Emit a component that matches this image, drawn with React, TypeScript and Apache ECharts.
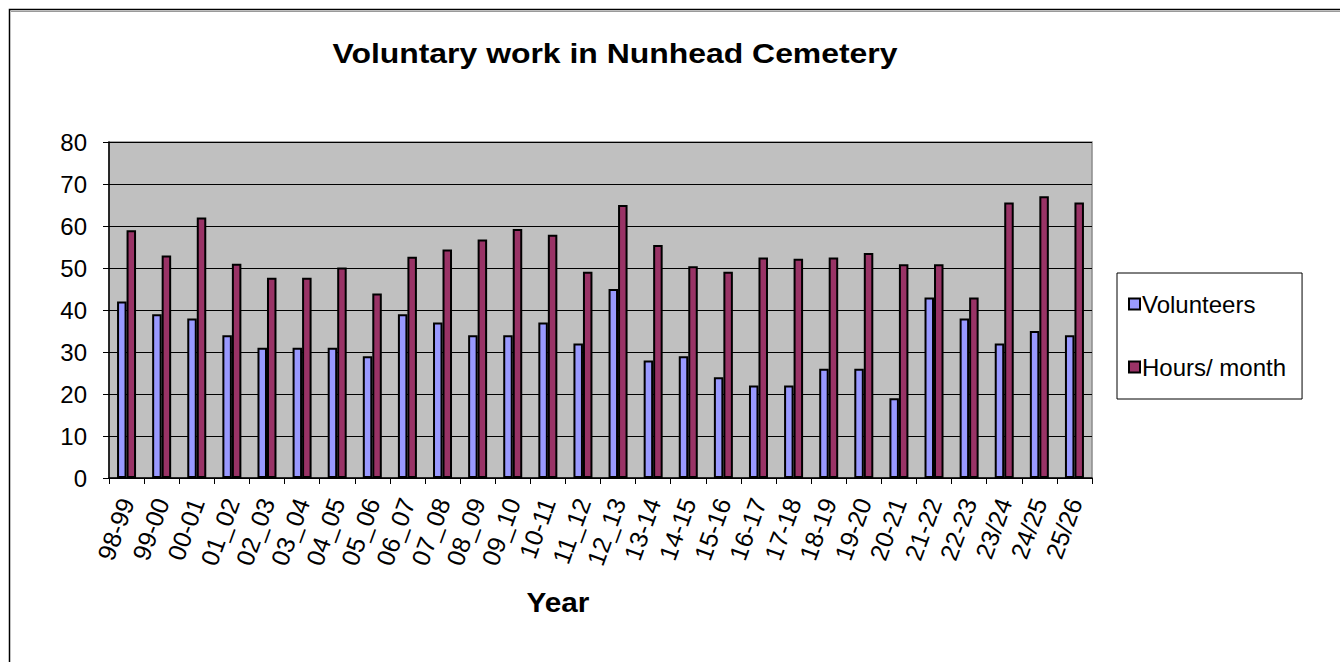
import React, { useEffect, useRef } from "react";
import * as echarts from "echarts";

const years = [
  "98-99", "99-00", "00-01", "01_02", "02_03", "03_04", "04_05", "05_06", "06_07", "07_08",
  "08_09", "09_10", "10-11", "11_12", "12_13", "13-14", "14-15", "15-16", "16-17", "17-18",
  "18-19", "19-20", "20-21", "21-22", "22-23", "23/24", "24/25", "25/26",
];
const volunteers = [42, 39, 38, 34, 31, 31, 31, 29, 39, 37, 34, 34, 37, 32, 45, 28, 29, 24, 22, 22, 26, 26, 19, 43, 38, 32, 35, 34];
const hoursPerMonth = [59, 53, 62, 51, 47.7, 47.7, 50.1, 43.9, 52.7, 54.4, 56.8, 59.3, 57.9, 49.1, 65, 55.5, 50.4, 49.1, 52.5, 52.2, 52.5, 53.6, 50.9, 50.9, 43, 65.6, 67.1, 65.6];
const yTicks = { min: 0, max: 80, interval: 10 };

const FONT = "'Liberation Sans', Arial, sans-serif";

export default function App() {
  const ref = useRef<HTMLDivElement>(null);
  useEffect(() => {
    if (!ref.current) return;
    const chart = echarts.init(ref.current, null, { renderer: "svg" });
    chart.setOption({
      animation: false,
      backgroundColor: "#fff",
      textStyle: { fontFamily: FONT },
      graphic: [
        {
          type: "rect",
          shape: { x: 9.5, y: 9.5, width: 1400, height: 700 },
          style: { fill: "none", stroke: "#000", lineWidth: 1.5 },
          silent: true,
        },
        {
          type: "line",
          shape: { x1: 11, y1: 11.5, x2: 1340, y2: 11.5 },
          style: { stroke: "#9a9a9a", lineWidth: 1 },
          silent: true,
        },
        {
          type: "text",
          x: 615,
          y: 53,
          scaleX: 1.14,
          style: {
            text: "Voluntary work in Nunhead Cemetery",
            font: `bold 28px ${FONT}`,
            fill: "#000",
            textAlign: "center",
            textVerticalAlign: "middle",
          },
        },
        {
          type: "text",
          x: 558,
          y: 602,
          scaleX: 1.1,
          style: {
            text: "Year",
            font: `bold 27px ${FONT}`,
            fill: "#000",
            textAlign: "center",
            textVerticalAlign: "middle",
          },
        },
      ],
      legend: {
        orient: "vertical",
        left: 1117,
        top: 273,
        padding: [19, 16, 20, 11],
        itemGap: 39,
        itemWidth: 11,
        itemHeight: 11,
        borderColor: "#000",
        borderWidth: 1,
        backgroundColor: "#fff",
        textStyle: { fontSize: 24, color: "#000", fontFamily: FONT, padding: [0, 0, 0, -3] },
        data: [
          { name: "Volunteers", icon: "rect" },
          { name: "Hours/ month", icon: "rect" },
        ],
      },
      grid: {
        left: 109,
        top: 142,
        right: 248,
        bottom: 184,
        show: true,
        backgroundColor: "#C0C0C0",
        borderColor: "#8c8c8c",
        borderWidth: 1.5,
      },
      xAxis: {
        type: "category",
        data: years,
        boundaryGap: true,
        axisLine: { show: true, lineStyle: { color: "#000", width: 1.5 } },
        axisTick: { show: true, length: 6, alignWithLabel: false, lineStyle: { color: "#000", width: 1 } },
        axisLabel: {
          interval: 0,
          rotate: 70,
          fontSize: 25,
          color: "#000",
          fontFamily: FONT,
          margin: 21,
        },
      },
      yAxis: {
        type: "value",
        min: yTicks.min,
        max: yTicks.max,
        interval: yTicks.interval,
        axisLine: { show: true, lineStyle: { color: "#000", width: 1.5 } },
        axisTick: { show: true, length: 6, lineStyle: { color: "#000", width: 1 } },
        axisLabel: { fontSize: 24, color: "#000", fontFamily: FONT, margin: 22 },
        splitLine: { show: true, lineStyle: { color: "#000", width: 1 } },
      },
      series: [
        {
          name: "Volunteers",
          type: "bar",
          data: volunteers,
          barWidth: 9.5,
          barGap: "0%",
          itemStyle: { color: "#9999FF", borderColor: "#000", borderWidth: 2 },
        },
        {
          name: "Hours/ month",
          type: "bar",
          data: hoursPerMonth,
          barWidth: 9.5,
          barGap: "0%",
          itemStyle: { color: "#993366", borderColor: "#000", borderWidth: 2 },
        },
      ],
    });
    return () => chart.dispose();
  }, []);
  return (
    <div
      ref={ref}
      style={{ position: "fixed", left: 0, top: 0, width: 1340, height: 662 }}
    />
  );
}
